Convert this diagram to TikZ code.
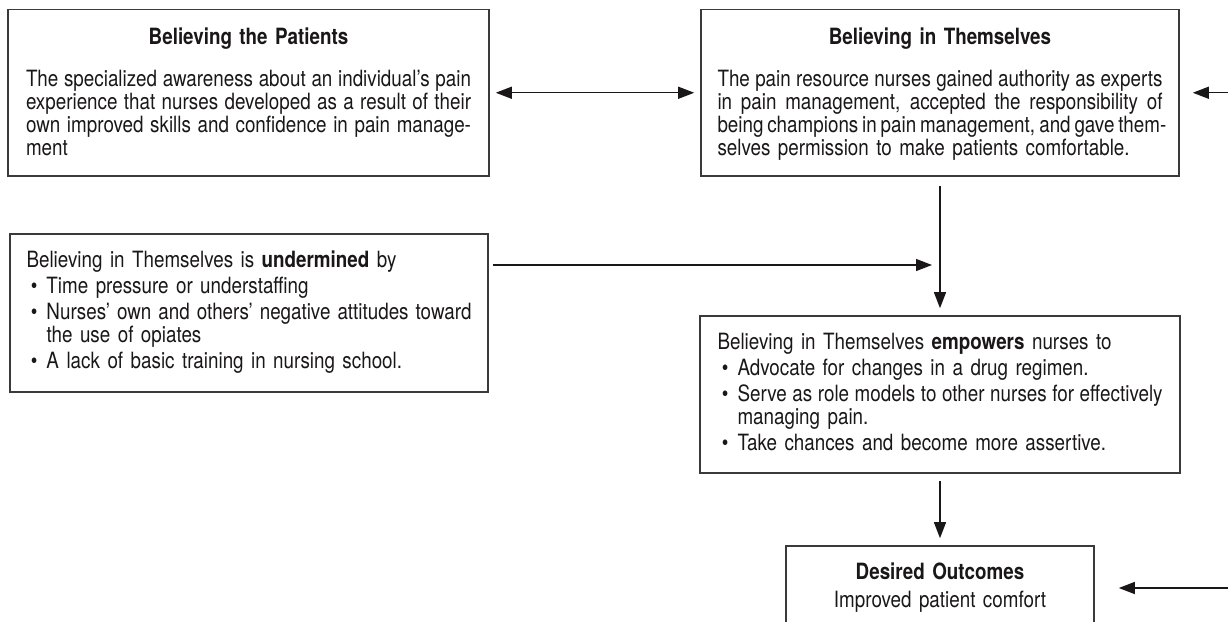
\documentclass[tikz,border=0pt]{standalone}
\usepackage{fontspec}
\setmainfont{TeX Gyre Heros}[FakeStretch=0.84]
\usetikzlibrary{arrows.meta}
\definecolor{ink}{HTML}{1A1718}
\definecolor{edge}{HTML}{3A3A3A}
\hyphenpenalty=10000
\exhyphenpenalty=10000
\newcommand\topstrut{\rule{0pt}{10pt}}
\newcommand\botstrut[1]{\rule[-#1]{0pt}{#1}}
\newcommand\jline[1]{\hbox to \hsize{\spaceskip=0.27em plus 0.3em minus 0.1em #1}}
\newcommand\bul{\hbox to 10pt{\hskip2.2pt\textbullet\hfil}}
\newcommand\bitem[1]{\par\vskip1.4pt\noindent\bul#1\par}
\newcommand\bitemtwo[2]{\par\vskip1.4pt\noindent\bul\hbox to \dimexpr\hsize-10pt\relax{\spaceskip=0.27em plus 0.3em minus 0.1em #1}\par\noindent\hskip10pt #2\par}
\tikzset{
  box/.style={draw=edge, line width=0.8pt, rectangle, inner sep=0pt, text=ink,
    text width=222.5pt, align=left, font=\fontsize{11.2}{11.5}\selectfont},
  arr/.style={-{Triangle[length=8pt,width=6pt]}, line width=0.65pt, draw=ink},
  darr/.style={{Triangle[length=8pt,width=6pt]}-{Triangle[length=8pt,width=6pt]}, line width=0.65pt, draw=ink},
}
\begin{document}
\begin{tikzpicture}[x=0.5pt,y=-0.5pt]
\fill[white] (0,0) rectangle (1228,622);
\clip (0,0) rectangle (1228,622);
\useasboundingbox (0,0) rectangle (1228,622);

\node[box, minimum width=240.5pt, minimum height=83.25pt] (b1) at (248.5,92.75) {%
\centerline{\bfseries\topstrut Believing the Patients}\vskip9.95pt
\jline{The specialized awareness about an individual’s pain}
\jline{experience that nurses developed as a result of their}
\jline{own improved skills and confidence in pain manage-}
\noindent ment\botstrut{2.8pt}};

\node[box, minimum width=239pt, minimum height=83.25pt] (b2) at (940,92.75) {%
\centerline{\bfseries\topstrut Believing in Themselves}\vskip9.95pt
\jline{The pain resource nurses gained authority as experts}
\jline{in pain management, accepted the responsibility of}
\jline{being champions in pain management, and gave them-}
\noindent selves permission to make patients comfortable.\botstrut{2.8pt}};

\node[box, minimum width=239pt, minimum height=79pt] (b3) at (249,313) {%
\noindent\topstrut Believing in Themselves is \textbf{undermined} by\par
\bitem{Time pressure or understaffing}
\bitemtwo{Nurses’ own and others’ negative attitudes toward}{the use of opiates}
\bitem{A lack of basic training in nursing school.\botstrut{4.9pt}}};

\node[box, minimum width=240pt, minimum height=78.5pt] (b4) at (940,394.5) {%
\noindent\topstrut Believing in Themselves \textbf{empowers} nurses to\par
\bitem{Advocate for changes in a drug regimen.}
\bitemtwo{Serve as role models to other nurses for effectively}{managing pain.}
\bitem{Take chances and become more assertive.\botstrut{4.4pt}}};

\node[box, font=\fontsize{11.2}{14}\selectfont, text width=140pt, align=center,
  minimum width=154pt, minimum height=42pt] (b5) at (940,588) {%
\textbf{\topstrut Desired Outcomes}\\Improved patient comfort\botstrut{4.05pt}};

\coordinate (r1) at (1228,92.75);
\coordinate (r2) at (1228,588);
\path (b3.east) ++(0,-48) coordinate (b3a);

\draw[darr, shorten <=3pt, shorten >=3pt] (b1.east) -- (b2.west);
\draw[arr, shorten >=6.5pt] (r1) -- (b2.east);
\draw[arr, shorten <=4.5pt, shorten >=3.5pt] (b2.south) -- (b4.north);
\draw[arr, shorten <=2pt, shorten >=4pt] (b3a) -- (b3a -| b2.south);
\draw[arr, shorten <=3.5pt, shorten >=3.5pt] (b4.south) -- (b5.north);
\draw[arr, shorten >=12pt] (r2) -- (b5.east);
\end{tikzpicture}
\end{document}
